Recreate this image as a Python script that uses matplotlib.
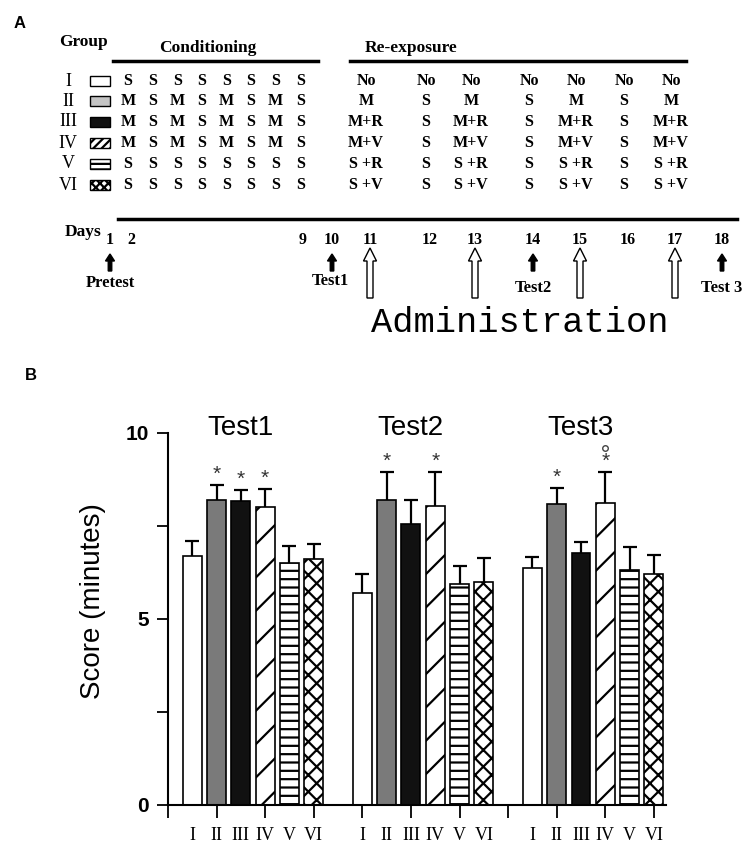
import numpy as np
import matplotlib.pyplot as plt

plt.rcParams['hatch.linewidth'] = 1.6

# ---------------- panel B values ----------------
groups = ['I', 'II', 'III', 'IV', 'V', 'VI']
tests = ['Test1', 'Test2', 'Test3']
test1_mean = [6.7, 8.2, 8.18, 8.0, 6.5, 6.62]
test1_sem = [0.4, 0.4, 0.3, 0.5, 0.45, 0.4]
test2_mean = [5.7, 8.2, 7.56, 8.05, 5.95, 6.0]
test2_sem = [0.5, 0.75, 0.65, 0.9, 0.48, 0.65]
test3_mean = [6.38, 8.1, 6.78, 8.12, 6.33, 6.22]
test3_sem = [0.3, 0.43, 0.3, 0.83, 0.6, 0.5]
test1_marks = ['', '*', '*', '*', '', '']
test2_marks = ['', '*', '', '*', '', '']
test3_marks = ['', '*', '', '*o', '', '']

# ---------------- panel A schedule ----------------
cond_rows = [
    ['S', 'S', 'S', 'S', 'S', 'S', 'S', 'S'],
    ['M', 'S', 'M', 'S', 'M', 'S', 'M', 'S'],
    ['M', 'S', 'M', 'S', 'M', 'S', 'M', 'S'],
    ['M', 'S', 'M', 'S', 'M', 'S', 'M', 'S'],
    ['S', 'S', 'S', 'S', 'S', 'S', 'S', 'S'],
    ['S', 'S', 'S', 'S', 'S', 'S', 'S', 'S'],
]
reexp_days = [11, 12, 13, 14, 15, 16, 17]
reexp_drug = ['No', 'M', 'M+R', 'M+V', 'S +R', 'S +V']
reexp_saline = ['No', 'S', 'S', 'S', 'S', 'S']
day_labels = [1, 2, 9, 10, 11, 12, 13, 14, 15, 16, 17, 18]
test_days = [1, 10, 14, 18]
test_names = ['Pretest', 'Test1', 'Test2', 'Test 3']
admin_days = [11, 13, 15, 17]

# layout (pixels of the 745x848 figure)
day_x = {1: 110, 2: 131, 9: 303, 10: 332, 11: 370, 12: 430, 13: 475,
         14: 533, 15: 580, 16: 628, 17: 675, 18: 722}
row_y = [81, 101, 122, 143, 164, 185]
test_label_y = [283, 281, 288, 288]
serif = 'Liberation Serif'
sans = 'Liberation Sans'

fig = plt.figure(figsize=(7.45, 8.48), dpi=100)
sk = fig.add_axes([0, 0, 1, 1])
sk.set_xlim(0, 745)
sk.set_ylim(848, 0)
sk.axis('off')

sk.text(20, 23, 'A', fontsize=12, fontweight='bold', family=sans, ha='center', va='center')
sk.text(31, 376, 'B', fontsize=12, fontweight='bold', family=sans, ha='center', va='center')

sk.text(83, 42, 'Group', fontsize=12.5, fontweight='bold', family=serif, ha='center', va='center')
sk.text(208, 48, 'Conditioning', fontsize=12.5, fontweight='bold', family=serif, ha='center', va='center')
sk.text(411, 48, 'Re-exposure', fontsize=12.5, fontweight='bold', family=serif, ha='center', va='center')
sk.plot([113, 318], [61, 61], color='k', lw=2.5)
sk.plot([350, 686], [61, 61], color='k', lw=2.5)

icon_fill = ['white', '#c4c4c4', '#111111', 'white', 'white', 'white']
icon_hatch = ['', '', '', '////', '---', 'xxxx']
for i, g in enumerate(groups):
    y = row_y[i]
    sk.text(68, y, g, fontsize=13, family=serif, ha='center', va='center')
    sk.add_patch(plt.Rectangle((90, y - 5), 20, 10, facecolor=icon_fill[i],
                               edgecolor='k', lw=1, hatch=icon_hatch[i]))
    for j, s in enumerate(cond_rows[i]):
        sk.text(128 + 24.6 * j, y, s, fontsize=11.5, fontweight='bold',
                family=serif, ha='center', va='center')
    for d in reexp_days:
        lab = reexp_drug[i] if d % 2 == 1 else reexp_saline[i]
        sk.text(day_x[d] - 4, y, lab, fontsize=11.5, fontweight='bold',
                family=serif, ha='center', va='center')

sk.plot([118, 737], [219, 219], color='k', lw=2.5)
sk.text(83, 232, 'Days', fontsize=12.5, fontweight='bold', family=serif, ha='center', va='center')
for d in day_labels:
    sk.text(day_x[d], 240, str(d), fontsize=11.5, fontweight='bold',
            family=serif, ha='center', va='center')

for d, name, ty in zip(test_days, test_names, test_label_y):
    x = day_x[d]
    sk.arrow(x, 271, 0, -17, width=3.5, head_width=9, head_length=7,
             length_includes_head=True, fc='k', ec='k')
    sk.text(x - 2 if d == 10 else x, ty, name, fontsize=12, fontweight='bold',
            family=serif, ha='center', va='center')

for d in admin_days:
    sk.arrow(day_x[d], 298, 0, -50, width=6, head_width=13, head_length=13,
             length_includes_head=True, fc='white', ec='k', lw=1)
sk.text(520, 323, 'Administration', fontsize=25.5, family='Liberation Mono',
        ha='center', va='center')

# ---------------- panel B bar chart ----------------
ax = fig.add_axes([168 / 745, 43 / 848, 498 / 745, 372 / 848])
bar_fill = ['white', '#7a7a7a', '#111111', 'white', 'white', 'white']
bar_hatch = ['', '', '', '/', '--', 'xx']
means = [test1_mean, test2_mean, test3_mean]
sems = [test1_sem, test2_sem, test3_sem]
marks = [test1_marks, test2_marks, test3_marks]

centers = []
for k in range(3):
    x = np.arange(6) + 7 * k
    centers.extend(x)
    bars = ax.bar(x, means[k], width=0.78, color=bar_fill, edgecolor='k', lw=1.2)
    for b, h in zip(bars, bar_hatch):
        b.set_hatch(h)
    eb = ax.errorbar(x, means[k], yerr=[np.zeros(6), sems[k]], fmt='none',
                     ecolor='k', elinewidth=1.6, capsize=5, capthick=1.6)
    eb[1][0].set_visible(False)
    for i in range(6):
        top = means[k][i] + sems[k][i]
        if '*' in marks[k][i]:
            ax.text(x[i], top + 0.28, '*', fontsize=15, color='#333333',
                    family=sans, ha='center', va='center')
        if 'o' in marks[k][i]:
            ax.plot(x[i], top + 0.65, 'o', ms=4, mfc='white', mec='#444444', mew=1)
    ax.text(7 * k + 2.0, 9.95, tests[k], fontsize=20, family=sans,
            ha='center', va='baseline')

ax.set_xlim(-1, 19.5)
ax.set_ylim(0, 10)
ax.spines['top'].set_visible(False)
ax.spines['right'].set_visible(False)
ax.spines['left'].set_linewidth(1.5)
ax.spines['bottom'].set_linewidth(1.5)

ax.set_yticks([0, 5, 10])
ax.set_yticks([2.5, 7.5], minor=True)
ax.tick_params(axis='y', which='both', length=8, width=1.3, pad=6)
for t in ax.get_yticklabels():
    t.set_fontsize(15)
    t.set_fontweight('bold')
    t.set_family(sans)

ax.xaxis.remove_overlapping_locs = False
ax.set_xticks(np.arange(-1, 20, 2))
ax.set_xticklabels([])
ax.set_xticks(centers, groups * 3, minor=True)
ax.tick_params(axis='x', which='major', length=9.5, width=1.3)
ax.tick_params(axis='x', which='minor', length=0, pad=16)
for t in ax.get_xticklabels(minor=True):
    t.set_fontsize(13)
    t.set_family(serif)

ax.set_ylabel('Score (minutes)', fontsize=20, family=sans)
ax.yaxis.set_label_coords(-0.125, 0.548)

fig.savefig('out.png', dpi=100, facecolor='white')
